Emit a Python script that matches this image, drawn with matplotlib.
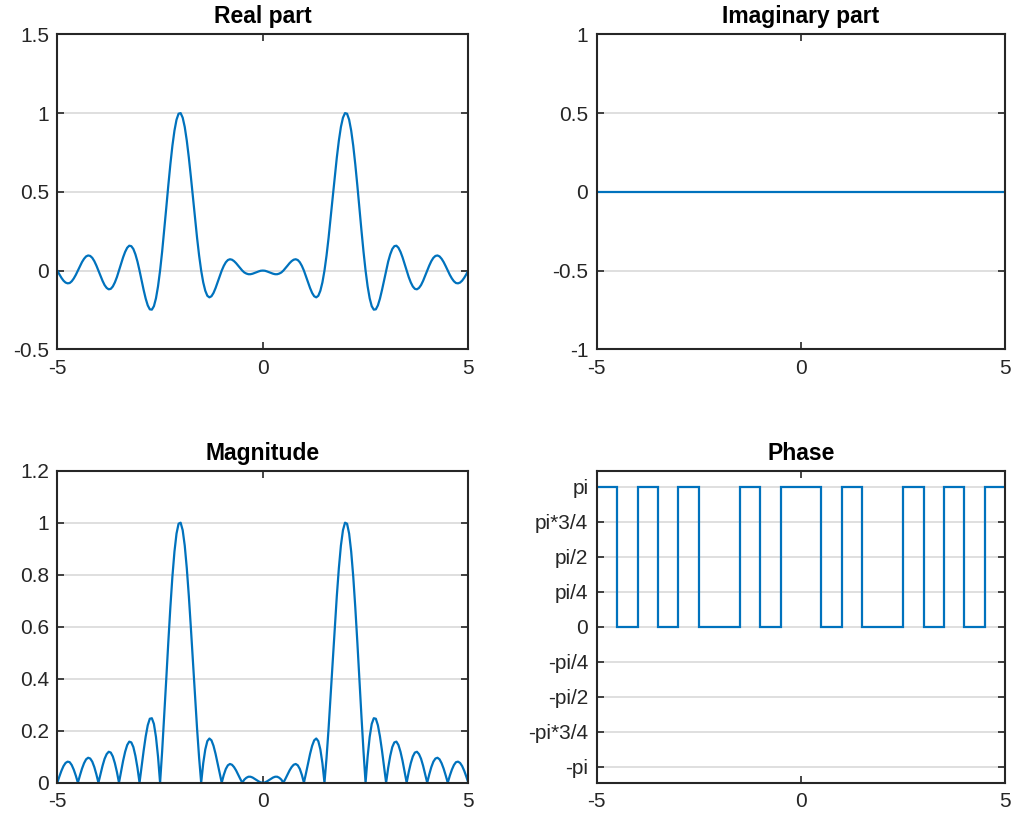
import numpy as np
import matplotlib
matplotlib.use('Agg')
import matplotlib.pyplot as plt

plt.rcParams['font.family'] = ['Liberation Sans', 'DejaVu Sans']

# sample grid, step 0.05
x = np.linspace(-5, 5, 201)

# real part
real_part = [
    0.000, -0.024, -0.046, -0.064, -0.076, -0.081, -0.079, -0.068, -0.050, -0.027,
    0.000, 0.028, 0.054, 0.075, 0.090, 0.096, 0.093, 0.081, 0.060, 0.032,
    0.000, -0.033, -0.065, -0.092, -0.110, -0.119, -0.116, -0.101, -0.075, -0.041,
    0.000, 0.043, 0.084, 0.119, 0.145, 0.158, 0.155, 0.137, 0.103, 0.057,
    0.000, -0.062, -0.123, -0.178, -0.221, -0.246, -0.248, -0.226, -0.176, -0.100,
    0.000, 0.120, 0.255, 0.397, 0.540, 0.674, 0.793, 0.889, 0.958, 0.996,
    1.000, 0.971, 0.912, 0.825, 0.717, 0.594, 0.464, 0.333, 0.208, 0.095,
    0.000, -0.075, -0.128, -0.160, -0.170, -0.163, -0.142, -0.111, -0.074, -0.036,
    0.000, 0.030, 0.053, 0.067, 0.072, 0.069, 0.060, 0.047, 0.031, 0.015,
    0.000, -0.012, -0.019, -0.023, -0.023, -0.020, -0.015, -0.010, -0.005, -0.001,
    0.000, -0.001, -0.005, -0.010, -0.015, -0.020, -0.023, -0.023, -0.019, -0.012,
    0.000, 0.015, 0.031, 0.047, 0.060, 0.069, 0.072, 0.067, 0.053, 0.030,
    0.000, -0.036, -0.074, -0.111, -0.142, -0.163, -0.170, -0.160, -0.128, -0.075,
    0.000, 0.095, 0.208, 0.333, 0.464, 0.594, 0.717, 0.825, 0.912, 0.971,
    1.000, 0.996, 0.958, 0.889, 0.793, 0.674, 0.540, 0.397, 0.255, 0.120,
    0.000, -0.100, -0.176, -0.226, -0.248, -0.246, -0.221, -0.178, -0.123, -0.062,
    0.000, 0.057, 0.103, 0.137, 0.155, 0.158, 0.145, 0.119, 0.084, 0.043,
    0.000, -0.041, -0.075, -0.101, -0.116, -0.119, -0.110, -0.092, -0.065, -0.033,
    0.000, 0.032, 0.060, 0.081, 0.093, 0.096, 0.090, 0.075, 0.054, 0.028,
    0.000, -0.027, -0.050, -0.068, -0.079, -0.081, -0.076, -0.064, -0.046, -0.024,
    0.000,
]

# imaginary part is flat zero
imag_part = [0.0] * len(real_part)

# phase: segment edges and level (in units of pi)
phase_edges = [-5, -4.5, -4, -3.5, -3, -2.5, -2, -1.5, -1, -0.5, 0,
               0.5, 1, 1.5, 2, 2.5, 3, 3.5, 4, 4.5, 5]
phase_levels = [1, 0, 1, 0, 1, 0, 0, 1, 0, 1, 1, 0, 1, 0, 0, 1, 0, 1, 0, 1]

phase_ticks = [-np.pi, -3 * np.pi / 4, -np.pi / 2, -np.pi / 4, 0,
               np.pi / 4, np.pi / 2, 3 * np.pi / 4, np.pi]
phase_labels = ['-pi', '-pi*3/4', '-pi/2', '-pi/4', '0',
                'pi/4', 'pi/2', 'pi*3/4', 'pi']

line_color = '#0072BD'
axis_color = '#262626'

magnitude = np.abs(real_part)

fig = plt.figure(figsize=(10.13, 8.16), dpi=100)
ax1 = fig.add_axes([0.0566, 0.5719, 0.4057, 0.386])
ax2 = fig.add_axes([0.589, 0.5719, 0.4034, 0.386])
ax3 = fig.add_axes([0.0566, 0.0408, 0.4057, 0.3824])
ax4 = fig.add_axes([0.589, 0.0408, 0.4034, 0.3824])


def style(ax, title):
    ax.set_title(title, fontsize=16.5, fontweight='bold', pad=8)
    ax.set_xlim(-5, 5)
    ax.set_xticks([-5, 0, 5])
    ax.set_xticklabels(['-5', '0', '5'])
    ax.tick_params(direction='in', length=5, width=1.2, colors=axis_color,
                   labelsize=15, top=True, right=True)
    ax.tick_params(axis='x', pad=7)
    ax.tick_params(axis='y', pad=6)
    for s in ax.spines.values():
        s.set_color(axis_color)
        s.set_linewidth(1.5)
    ax.yaxis.grid(True, color='#d9d9d9', linewidth=1.2)
    ax.set_axisbelow(True)


ax1.plot(x, real_part, color=line_color, linewidth=1.6)
style(ax1, 'Real part')
ax1.set_ylim(-0.5, 1.5)
ax1.set_yticks([-0.5, 0, 0.5, 1, 1.5])
ax1.set_yticklabels(['-0.5', '0', '0.5', '1', '1.5'])

ax2.plot(x, imag_part, color=line_color, linewidth=1.6)
style(ax2, 'Imaginary part')
ax2.set_ylim(-1, 1)
ax2.set_yticks([-1, -0.5, 0, 0.5, 1])
ax2.set_yticklabels(['-1', '-0.5', '0', '0.5', '1'])

ax3.plot(x, magnitude, color=line_color, linewidth=1.6)
style(ax3, 'Magnitude')
ax3.set_ylim(0, 1.2)
ax3.set_yticks([0, 0.2, 0.4, 0.6, 0.8, 1, 1.2])
ax3.set_yticklabels(['0', '0.2', '0.4', '0.6', '0.8', '1', '1.2'])

ax4.stairs(np.array(phase_levels) * np.pi, phase_edges, baseline=None,
           color=line_color, linewidth=1.6)
style(ax4, 'Phase')
ax4.set_ylim(-3.5, 3.5)
ax4.set_yticks(phase_ticks)
ax4.set_yticklabels(phase_labels)

fig.savefig('out.png', dpi=100)
